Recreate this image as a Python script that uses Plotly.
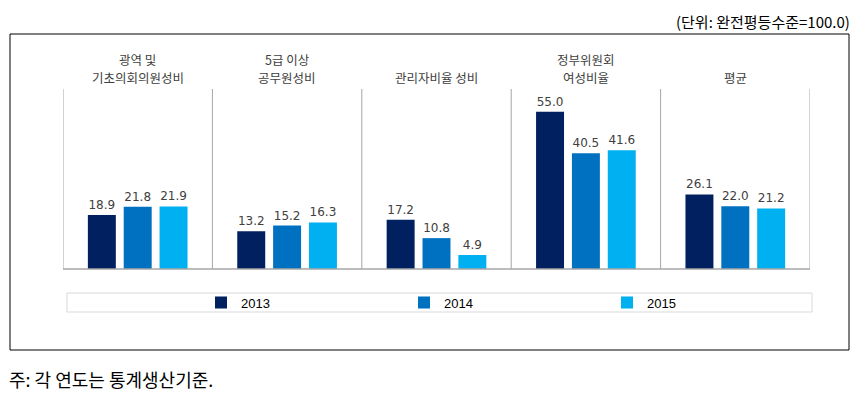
import plotly.graph_objects as go

categories = ["광역 및<br>기초의회의원성비", "5급 이상<br>공무원성비", "관리자비율 성비", "정부위원회<br>여성비율", "평균"]
years = ["2013", "2014", "2015"]
values_2013 = [18.9, 13.2, 17.2, 55.0, 26.1]
values_2014 = [21.8, 15.2, 10.8, 40.5, 22.0]
values_2015 = [21.9, 16.3, 4.9, 41.6, 21.2]
series = [values_2013, values_2014, values_2015]
colors = ["#002060", "#0070C0", "#00B0F0"]
unit_text = "(단위: 완전평등수준=100.0)"
note_text = "주: 각 연도는 통계생산기준."

OFF = 8  # page body margin offset
W, H = 865 - OFF, 407 - OFF
PL, PR, PT, PB = 63, 810, 89, 269  # plot area in page pixels
L, T = PL - OFF, PT - OFF
R, B = W - (PR - OFF), H - (PB - OFF)
pw, ph = PR - PL, PB - PT

def px(xp):
    return (xp - PL) / pw

def py(yp):
    return (PB - yp) / ph

fig = go.Figure()
xs = list(range(len(categories)))
for yr, vals, col in zip(years, series, colors):
    fig.add_trace(go.Bar(
        x=xs, y=vals, name=yr, marker=dict(color=col, line=dict(width=0)),
        text=[f"{v:.1f}" for v in vals], textposition="outside",
        textfont=dict(family="DejaVu Sans", size=12, color="#404040"),
        cliponaxis=False,
    ))

shapes = []
shapes.append(dict(type="rect", xref="paper", yref="paper",
                   x0=px(10), x1=px(849), y0=py(350), y1=py(34),
                   line=dict(color="#000000", width=1), fillcolor="rgba(0,0,0,0)", layer="below"))
for i in range(len(categories) + 1):
    shapes.append(dict(type="line", xref="x", yref="paper", x0=i - 0.5, x1=i - 0.5, y0=0, y1=1,
                       line=dict(color="#a6a6a6", width=1)))
shapes.append(dict(type="line", xref="paper", yref="paper", x0=0, x1=1, y0=0, y1=0,
                   line=dict(color="#a6a6a6", width=1.5)))
shapes.append(dict(type="rect", xref="paper", yref="paper",
                   x0=px(67), x1=px(812), y0=py(312), y1=py(293),
                   line=dict(color="#d9d9d9", width=1), fillcolor="white", layer="below"))

annotations = []
cat_font = dict(family="Noto Sans CJK KR", size=12.5, color="#404040")
for i, c in enumerate(categories):
    lines = c.split("<br>")
    for j, line in enumerate(reversed(lines)):
        annotations.append(dict(x=i, y=1, xref="x", yref="paper", text=line, showarrow=False,
                                yanchor="bottom", yshift=1 + 18 * j, borderpad=0, font=cat_font))
annotations.append(dict(x=px(851), y=py(21), xref="paper", yref="paper", text=unit_text,
                        showarrow=False, xanchor="right", yanchor="middle", borderpad=0,
                        font=dict(family="Noto Sans CJK KR", size=15, color="#000000")))
annotations.append(dict(x=px(7), y=py(379), xref="paper", yref="paper", text=note_text,
                        showarrow=False, xanchor="left", yanchor="middle",
                        font=dict(family="Noto Sans CJK KR", size=18, color="#000000")))

fig.update_layout(
    width=W, height=H,
    margin=dict(l=L, r=R, t=T, b=B, pad=0),
    paper_bgcolor="white", plot_bgcolor="white",
    barmode="group", bargap=0.28, bargroupgap=0.22,
    xaxis=dict(range=[-0.5, len(categories) - 0.5], showticklabels=False, showgrid=False,
               zeroline=False, showline=False, ticks=""),
    yaxis=dict(range=[0, 63], showticklabels=False, showgrid=False, zeroline=False,
               showline=False, ticks=""),
    showlegend=True,
    legend=dict(orientation="h", x=px(201), y=py(302.5), xanchor="left", yanchor="middle",
                entrywidth=158, entrywidthmode="pixels", bgcolor="rgba(0,0,0,0)",
                font=dict(family="Liberation Sans", size=13, color="#000000"),
                itemwidth=30, tracegroupgap=0),
    shapes=shapes, annotations=annotations,
)

fig.write_html("out.html")
